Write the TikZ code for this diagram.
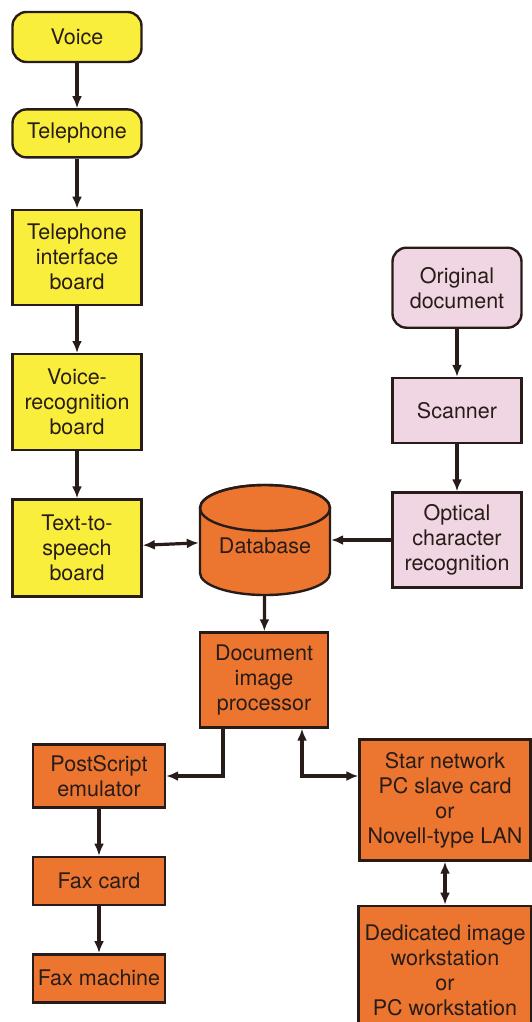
\documentclass[tikz,border=0pt]{standalone}
\usepackage{fontspec}
\setmainfont{TeX Gyre Heros}
\usetikzlibrary{arrows.meta, positioning, shapes.geometric, calc}
\definecolor{boardyellow}{RGB}{250,238,60}
\definecolor{scanpink}{RGB}{240,214,226}
\definecolor{imgorange}{RGB}{236,118,48}
\definecolor{inkdark}{RGB}{40,28,24}

\begin{document}
\begin{tikzpicture}[
  x=1pt, y=1pt,
  node distance=47pt and 60pt,
  box/.style={rectangle, draw=inkdark, line width=2.4pt, minimum width=129pt, align=center, inner sep=1pt, text=inkdark, font=\fontsize{21.5}{25}\selectfont},
  rbox/.style={box, rounded corners=14pt},
  yelbox/.style={box, fill=boardyellow},
  pinkbox/.style={box, fill=scanpink},
  orbox/.style={box, fill=imgorange},
  link/.style={draw=inkdark, line width=3.2pt, -{Latex[length=12pt,width=10pt]}},
  dlink/.style={draw=inkdark, line width=3.2pt, {Latex[length=12pt,width=10pt]}-{Latex[length=12pt,width=10pt]}}
]
  \useasboundingbox (0,0) rectangle (532,-1022);

  % voice path
  \node[yelbox, rbox, minimum height=50pt] (voice) at (77,-37) {Voice};
  \node[yelbox, rbox, minimum height=48pt, below=45pt of voice] (phone) {Telephone};
  \node[yelbox, minimum height=95pt, below=50pt of phone] (tib) {Telephone\\interface\\board};
  \node[yelbox, minimum height=96pt, below=of tib] (vrb) {Voice-\\recognition\\board};
  \node[yelbox, minimum height=97pt, below=of vrb] (tts) {Text-to-\\speech\\board};

  % database (cylinder drawn by hand)
  \coordinate (dbc) at (265,-540);
  \filldraw[fill=imgorange, draw=inkdark, line width=2.4pt]
    ($(dbc)+(-65,32)$) -- ($(dbc)+(-65,-33)$)
    arc[start angle=180, end angle=360, x radius=65, y radius=22]
    -- ($(dbc)+(65,32)$)
    arc[start angle=0, end angle=180, x radius=65, y radius=23] -- cycle;
  \draw[inkdark, line width=2.4pt] ($(dbc)+(0,32)$) ellipse[x radius=65, y radius=23];
  \node[box, draw=none, minimum width=130pt, minimum height=110pt] (db) at (dbc) {\raisebox{-13pt}[0pt][0pt]{Database}};

  % scanning path
  \node[pinkbox, minimum height=95pt] (ocr) at (457,-540) {Optical\\character\\recognition};
  \node[pinkbox, minimum height=65pt, above=of ocr] (scan) {Scanner};
  \node[pinkbox, rbox, minimum height=80pt, above=48pt of scan] (orig) {Original\\document};

  % image path
  \node[orbox, minimum width=128pt, minimum height=95pt] (dip) at (264,-680) {Document\\image\\processor};
  \node[orbox, minimum width=132pt, minimum height=63pt] (ps) at (99,-776) {PostScript\\emulator};
  \node[orbox, minimum width=132pt, minimum height=48pt, below=of ps] (fcard) {Fax card};
  \node[orbox, minimum width=132pt, minimum height=48pt, below=of fcard] (fmach) {Fax machine};
  \node[orbox, minimum width=171pt, minimum height=121pt] (star) at (445,-800) {Star network\\PC slave card\\or\\Novell-type LAN};
  \node[orbox, minimum width=173pt, minimum height=128pt, below=43pt of star] (ws) {Dedicated image\\workstation\\or\\PC workstation};

  \draw[link] (voice) -- (phone);
  \draw[link] (phone) -- (tib);
  \draw[link] (tib) -- (vrb);
  \draw[link] (vrb) -- (tts);
  \draw[dlink] (tts) -- (db);
  \draw[link] (orig) -- (scan);
  \draw[link] (scan) -- (ocr);
  \draw[link] (ocr) -- (db);
  \draw[link] (db) -- (dip);
  \draw[link] ([xshift=-41pt]dip.south) |- (ps.east);
  \draw[dlink] ([xshift=38pt]dip.south) |- (star.west |- ps.east);
  \draw[link] (ps) -- (fcard);
  \draw[link] (fcard) -- (fmach);
  \draw[dlink] (star) -- (ws);
\end{tikzpicture}
\end{document}
